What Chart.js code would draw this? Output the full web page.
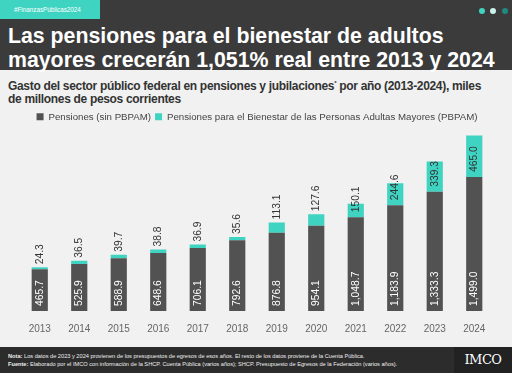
<!DOCTYPE html>
<html>
<head>
<meta charset="utf-8">
<script src="https://cdn.jsdelivr.net/npm/chart.js@4"></script>
<style>
  body { margin: 0; width: 512px; height: 373px; overflow: hidden; background: #f1f1f1; font-family: "Liberation Sans", Arial, sans-serif; position: relative; }
  #banner { position: absolute; left: 0; top: 0; width: 512px; height: 70px; background: #3b3b3b; }
  #tag { position: absolute; left: 0; top: 0; width: 100px; height: 19px; background: #3fd3c1; color: #fff; font-size: 6.3px; line-height: 19px; padding-left: 14px; box-sizing: border-box; }
  .dot { position: absolute; top: 8px; width: 6px; height: 6px; border-radius: 50%; }
  #title { position: absolute; left: 8px; top: 24px; color: #fff; font-weight: bold; font-size: 21.3px; line-height: 24px; margin: 0; white-space: nowrap; }
  #sub { position: absolute; left: 8px; top: 77px; color: #333; font-weight: bold; font-size: 12px; letter-spacing: -0.32px; line-height: 13px; margin: 0; width: 482px; }
  #wrap { position: absolute; left: 0; top: 106px; width: 512px; height: 233px; }
  #footer { position: absolute; left: 0; top: 347px; width: 512px; height: 26px; background: #2c2c2c; color: #eee; font-size: 6px; }
  #footer p { position: absolute; left: 8px; margin: 0; white-space: nowrap; transform: scale(0.94); transform-origin: left top; }
  #logo { position: absolute; right: 0; top: 0; width: 58px; height: 26px; background: #222; color: #fff; font-family: "DejaVu Serif", serif; font-size: 13px; line-height: 26px; text-align: center; letter-spacing: -0.5px; }
</style>
</head>
<body>
<div id="banner"></div>
<div id="tag">#FinanzasPúblicas2024</div>
<div class="dot" style="left:479px;background:#3fd3c1"></div>
<div class="dot" style="left:490px;background:#c9f2ec"></div>
<div class="dot" style="left:502px;background:#1f8a7e"></div>
<p id="title">Las pensiones para el bienestar de adultos<br>mayores crecerán 1,051% real entre 2013 y 2024</p>
<p id="sub">Gasto del sector público federal en pensiones y jubilaciones<sup style="font-size:6px">*</sup> por año (2013-2024), miles de millones de pesos corrientes</p>
<div id="wrap"><canvas id="c"></canvas></div>
<div id="footer">
  <p style="top:6px"><b>Nota:</b> Los datos de 2023 y 2024 provienen de los presupuestos de egresos de esos años. El resto de los datos proviene de la Cuenta Pública.</p>
  <p style="top:14px"><b>Fuente:</b> Elaborado por el IMCO con información de la SHCP. Cuenta Pública (varios años); SHCP. Presupuesto de Egresos de la Federación (varios años).</p>
  <div id="logo">IMCO</div>
</div>
<script>
const years = ['2013','2014','2015','2016','2017','2018','2019','2020','2021','2022','2023','2024'];
const pensiones = [465.7, 525.9, 588.9, 648.6, 706.1, 792.6, 876.8, 954.1, 1048.7, 1183.9, 1333.3, 1499.0];
const pbpam = [24.3, 36.5, 39.7, 38.8, 36.9, 35.6, 113.1, 127.6, 150.1, 244.6, 339.3, 465.0];

const fmt = v => v.toLocaleString('en-US', { minimumFractionDigits: 1, maximumFractionDigits: 1 });

const labels = {
  id: 'labels',
  afterDatasetsDraw(chart) {
    const ctx = chart.ctx;
    ctx.save();
    ctx.font = '10.3px "Liberation Sans", Arial, sans-serif';
    ctx.textBaseline = 'middle';
    ctx.textAlign = 'left';
    const dark = chart.getDatasetMeta(0).data;
    const teal = chart.getDatasetMeta(1).data;
    dark.forEach((b, i) => {
      ctx.save();
      ctx.translate(b.x, b.base - 5);
      ctx.rotate(-Math.PI / 2);
      ctx.fillStyle = '#fff';
      ctx.fillText(fmt(pensiones[i]), 0, 0);
      ctx.restore();
    });
    teal.forEach((b, i) => {
      // tall segments: label inside from the bottom; short ones: label above the bar
      const start = (b.base - b.y) >= 12 ? b.base - 5 : b.y - 3;
      ctx.save();
      ctx.translate(b.x, start);
      ctx.rotate(-Math.PI / 2);
      ctx.fillStyle = '#333';
      ctx.fillText(fmt(pbpam[i]), 0, 0);
      ctx.restore();
    });
    ctx.restore();
  }
};

new Chart(document.getElementById('c'), {
  type: 'bar',
  data: {
    labels: years,
    datasets: [
      { label: 'Pensiones (sin PBPAM)', data: pensiones, backgroundColor: '#525252' },
      { label: 'Pensiones para el Bienestar de las Personas Adultas Mayores (PBPAM)', data: pbpam, backgroundColor: '#3fd3c1' }
    ]
  },
  options: {
    responsive: true,
    maintainAspectRatio: false,
    animation: false,
    layout: { padding: { left: 20, right: 18, top: 2, bottom: 0 } },
    datasets: { bar: { barPercentage: 0.41, categoryPercentage: 1 } },
    plugins: {
      legend: {
        labels: { boxWidth: 7, boxHeight: 7, color: '#444', font: { size: 9.7, family: '"Liberation Sans", Arial, sans-serif' }, padding: 4 }
      },
      tooltip: { enabled: false }
    },
    scales: {
      x: {
        stacked: true,
        grid: { display: false },
        border: { display: false },
        ticks: { color: '#666', font: { size: 10, family: '"Liberation Sans", Arial, sans-serif' }, padding: 4 }
      },
      y: {
        stacked: true,
        display: false,
        min: 0,
        max: 2006
      }
    }
  },
  plugins: [labels]
});
</script>
</body>
</html>
